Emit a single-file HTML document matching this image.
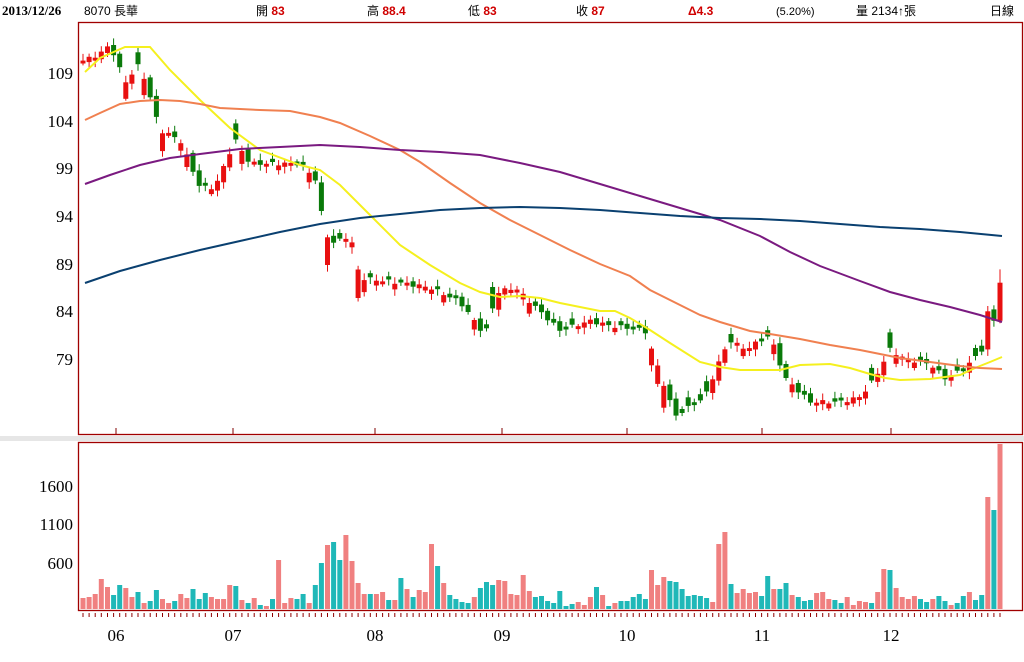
<!DOCTYPE html>
<html><head><meta charset="utf-8"><style>
html,body{margin:0;padding:0;background:#fff;width:1024px;height:662px;overflow:hidden}
svg{display:block}
</style></head><body>
<svg id="c" width="1024" height="662" xmlns="http://www.w3.org/2000/svg" font-family="Liberation Sans, Noto Sans CJK TC, sans-serif">
<rect x="0" y="436" width="1024" height="5" fill="#e6e6e6"/>
<rect x="78.5" y="22.5" width="944" height="412" fill="#fff" stroke="#a00000" stroke-width="1.3"/>
<rect x="78.5" y="442.5" width="944" height="168" fill="#fff" stroke="#a00000" stroke-width="1.3"/>
<g font-size="12">
<text x="2" y="15" font-family="Liberation Serif, serif" font-weight="bold" font-size="13">2013/12/26</text>
<text x="84" y="15">8070 長華</text>
<text x="256" y="15">開 <tspan fill="#d00000" font-weight="bold">83</tspan></text>
<text x="367" y="15">高 <tspan fill="#d00000" font-weight="bold">88.4</tspan></text>
<text x="468" y="15">低 <tspan fill="#d00000" font-weight="bold">83</tspan></text>
<text x="576" y="15">收 <tspan fill="#d00000" font-weight="bold">87</tspan></text>
<text x="688" y="15" fill="#d00000" font-weight="bold">Δ4.3</text>
<text x="776" y="15" font-size="11">(5.20%)</text>
<text x="856" y="15">量 2134↑張</text>
<text x="990" y="15">日線</text>
</g>
<g font-family="Liberation Serif, serif" font-size="17" text-anchor="end" fill="#000">
<text x="73" y="79">109</text><text x="73" y="127">104</text><text x="73" y="174">99</text>
<text x="73" y="222">94</text><text x="73" y="270">89</text><text x="73" y="317">84</text><text x="73" y="365">79</text>
<text x="73" y="492">1600</text><text x="73" y="530">1100</text><text x="73" y="569">600</text>
</g>
<g font-family="Liberation Serif, serif" font-size="17" text-anchor="middle">
<text x="116" y="641">06</text><text x="233" y="641">07</text><text x="375" y="641">08</text>
<text x="502" y="641">09</text><text x="627" y="641">10</text><text x="762" y="641">11</text><text x="891" y="641">12</text>
</g>
<g id="g"></g>
</svg>
<script>
var S='http://www.w3.org/2000/svg',g=document.getElementById('g');
function el(n,a){var e=document.createElementNS(S,n);for(var k in a)e.setAttribute(k,a[k]);g.appendChild(e);return e;}
[116,233,375,502,627,762,891].forEach(function(x){el('line',{x1:x,x2:x,y1:428,y2:434,stroke:'#800000','stroke-width':1});});
var H=[11,12,15,30,22,14,24,21,12,17,6,8,19,10,6,8,15,11,20,10,16,12,10,10,24,23,9,6,11,4,3,10,49,6,11,10,15,6,24,46,64,67,49,74,48,26,15,15,15,17,9,9,31,
20,12,19,17,65,43,26,14,10,7,6,12,21,27,24,29,28,15,14,34,18,12,13,8,6,18,3,5,7,4,12,22,14,3,6,8,8,12,15,10,39,24,32,28,27,20,13,14,13,11,7,65,77,25,16,20,16,17,13,33,20,20,26,14,12,8,9,16,17,10,9,6,12,4,8,7,6,17,40,39,21,12,10,13,10,7,10,13,8,4,6,13,17,9,14,112,99,165];
var C=('pppppttpptptt'+'pptppttt'+'pppptptptp'+'tppptt'+'pttpttpppptppt'+'pt').split('');
var C2='ptppptpttttpttt ppppppttttttt ppptptpt ttttppptt tttttppp tppppttpttpttt ppptt ppppt ppt ppppt tp tt pt tp tt pppt pt p'.replace(/ /g,'').split('');
while(C.length<53)C.push('t');C=C.slice(0,53);
var cols=C.concat(C2);while(cols.length<H.length)cols.push('t');
var N=H.length,step=(1000-83)/(N-1);
var kp=[[83,110.3],[100,111],[110,112],[125,108],[140,110],[160,103],[180,102],[200,97],[215,97],[235,102],[250,99.5],[300,99.5],[315,98],[322,94],[330,91],[350,92],[360,87.5],[400,87],[430,86.5],[460,85],[485,81.5],[497,86],[515,86.5],[530,85],[560,82],[590,83],[610,82.5],[645,82],[655,79],[665,76],[675,73],[690,74],[705,75],[718,78.5],[730,81],[745,80],[770,81.5],[785,77],[810,74.5],[840,74.5],[860,75],[875,77],[890,80],[905,79],[930,78.5],[945,77],[965,78],[982,80],[988,84],[994,84],[1000,87]];
function ip(a,x){for(var i=1;i<a.length;i++)if(x<=a[i][0]){var t=(x-a[i-1][0])/(a[i][0]-a[i-1][0]);return a[i-1][1]+t*(a[i][1]-a[i-1][1]);}return a[a.length-1][1];}
function Y(p){return 73+(109-p)*9.533;}
var pc=110.3;
for(var i=0;i<N;i++){
 var x=83+i*step,c=ip(kp,x)+Math.sin(i*2.3)*0.2,up=cols[i]=='p';
 var b=Math.min(Math.max(Math.abs(c-pc),0.15)+0.15,3);
 if(i==N-3){up=true;b=4;c=84;} if(i==N-1){up=true;b=4;c=87;} if(i==N-2){up=false;b=1.2;c=83;}
 var o=up?c-b:c+b,hi=Math.max(o,c)+0.2+0.5*Math.abs(Math.cos(i*1.3)),lo=Math.min(o,c)-0.2-0.5*Math.abs(Math.sin(i*0.9));
 if(i==N-1)hi=88.4;
 var col=up?'#e81010':'#0a7a0a';
 el('line',{x1:x.toFixed(1),x2:x.toFixed(1),y1:Y(hi).toFixed(1),y2:Y(lo).toFixed(1),stroke:col,'stroke-width':1});
 var y1=Y(Math.max(o,c)),y2=Y(Math.min(o,c));
 el('rect',{x:(x-2.5).toFixed(1),y:y1.toFixed(1),width:5,height:Math.max(1,y2-y1).toFixed(1),fill:col});
 pc=c;
 el('rect',{x:(x-2.5).toFixed(1),y:609-H[i],width:5,height:H[i],fill:up?'#f08080':'#1fb8b8'});
 el('line',{x1:x.toFixed(1),x2:x.toFixed(1),y1:613,y2:617,stroke:'#900000','stroke-width':1});
}
function pl(pts,col){el('polyline',{points:pts.map(function(p){return p.join(',')}).join(' '),fill:'none',stroke:col,'stroke-width':2});}
pl([[85,72],[100,58],[125,47],[150,47],[170,70],[200,100],[230,128],[260,150],[300,165],[320,170],[340,185],[370,215],[400,245],[430,265],[460,283],[480,292],[500,297],[520,296],[540,298],[560,303],[580,307],[600,311],[615,311],[630,318],[650,330],[670,343],[700,362],[720,367],[740,370],[780,370],[800,365],[830,364],[850,368],[870,374],[885,378],[900,380],[930,379],[960,375],[975,368],[990,362],[1002,357]],'#f5f01e');
pl([[85,120],[100,113],[120,104],[140,101],[160,100],[180,101],[200,104],[220,108],[260,110],[290,111],[320,117],[340,123],[370,136],[400,150],[420,162],[450,183],[480,203],[510,220],[540,235],[570,250],[600,264],[630,276],[650,290],[680,305],[700,315],[720,322],[750,331],[770,334],[800,339],[830,345],[860,350],[880,354],[900,358],[930,362],[960,366],[980,368],[1002,369]],'#f08050');
pl([[85,184],[110,175],[140,165],[170,158],[200,154],[240,149],[280,147],[320,145],[360,147],[400,150],[440,152],[480,155],[520,163],[560,172],[600,184],[640,196],[680,208],[720,220],[760,236],[790,252],[820,266],[860,281],[890,292],[920,300],[950,307],[980,315],[1002,322]],'#7a1a80');
pl([[85,283],[120,271],[160,260],[200,250],[240,241],[280,232],[320,224],[360,218],[400,214],[440,210],[480,208],[520,207],[560,208],[600,210],[640,213],[680,216],[720,218],[760,219],[800,221],[840,224],[880,227],[920,229],[960,232],[1002,236]],'#0a4070');
</script>
</body></html>
